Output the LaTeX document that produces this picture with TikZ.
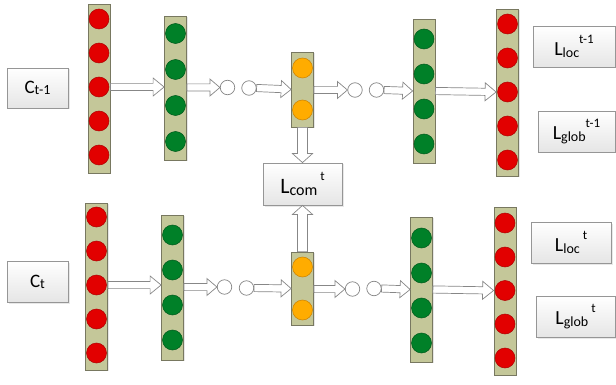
\documentclass[tikz,border=0pt]{standalone}
\usepackage{fontspec}
\setmainfont{Carlito}
\usetikzlibrary{calc,shadows}
\definecolor{colfill}{RGB}{196,199,153}
\definecolor{colline}{RGB}{120,120,96}
\definecolor{redfill}{RGB}{226,0,0}
\definecolor{redline}{RGB}{175,0,0}
\definecolor{grnfill}{RGB}{0,128,40}
\definecolor{grnline}{RGB}{0,90,28}
\definecolor{orfill}{RGB}{255,172,0}
\definecolor{orline}{RGB}{205,130,0}
\definecolor{boxline}{RGB}{150,150,150}
\definecolor{arrline}{RGB}{135,135,135}
\newcommand{\blockarr}[5]{%
  \coordinate (hb) at ($(#2)!#5!(#1)$);
  \draw[blockarrow] ($(#1)!#3!90:(#2)$) -- ($(hb)!#3!90:(#2)$) -- ($(hb)!#4!90:(#2)$) -- (#2)
    -- ($(hb)!#4!-90:(#2)$) -- ($(hb)!#3!-90:(#2)$) -- ($(#1)!#3!-90:(#2)$) -- cycle;}
\newcommand{\mainf}{\fontsize{19}{19}\selectfont}
\newcommand{\subf}{\fontsize{14}{14}\selectfont}
\newcommand{\Lf}{\fontsize{20}{20}\selectfont}
\newcommand{\Lsubf}{\fontsize{14}{14}\selectfont}
\newcommand{\Lsupf}{\fontsize{13}{13}\selectfont}
\tikzset{
  col/.style={draw=colline, fill=colfill, line width=0.8pt, minimum width=22pt, inner sep=0pt,
    drop shadow={shadow xshift=1.2pt, shadow yshift=-1.2pt, opacity=0.2}},
  unitc/.style={circle, inner sep=0pt, minimum size=20pt, line width=0.5pt},
  redc/.style={unitc, fill=redfill, draw=redline},
  grnc/.style={unitc, fill=grnfill, draw=grnline},
  orc/.style={unitc, fill=orfill, draw=orline},
  smallc/.style={circle, draw=arrline, fill=white, line width=0.7pt, minimum size=14.5pt, inner sep=0pt},
  lbox/.style={draw=boxline, line width=0.8pt, top color=white, bottom color=black!10, inner sep=0pt,
    drop shadow={shadow xshift=1.5pt, shadow yshift=-1.5pt, opacity=0.18}},
  blockarrow/.style={draw=arrline, fill=white, line width=0.7pt, line join=miter}
}
\begin{document}
\begin{tikzpicture}[x=1pt, y=-1pt]
\useasboundingbox (0,0) rectangle (616,385);
% ---------- top row ----------
\node[col, minimum height=169pt] (R1) at (99,88.5) {};
\foreach \y [count=\i] in {19,53,87,121,155} \node[redc] (r1\i) at (99,\y) {};
\node[col, minimum height=144pt] (G1) at (175.5,88) {};
\foreach \y [count=\i] in {33.5,69.5,105.5,141.5} \node[grnc] (g1\i) at (175.5,\y) {};
\node[col, minimum height=75pt] (O1) at (302.5,89.5) {};
\foreach \y [count=\i] in {68,110} \node[orc] (o1\i) at (302.5,\y) {};
\node[col, minimum height=144pt] (G2) at (424,91) {};
\foreach \y [count=\i] in {39,74,109,144} \node[grnc] (g2\i) at (424,\y) {};
\node[col, minimum height=167pt] (R2) at (507.5,92.5) {};
\foreach \y [count=\i] in {24,58,92,126,160} \node[redc] (r2\i) at (507.5,\y) {};
\node[smallc] (s1) at (227.5,87.5) {};
\node[smallc] (s2) at (249,88) {};
\node[smallc] (s3) at (355,90) {};
\node[smallc] (s4) at (376.5,90) {};
% ---------- bottom row ----------
\node[col, minimum height=167pt] (R3) at (96.5,286.5) {};
\foreach \y [count=\i] in {217,251,285,319,353} \node[redc] (r3\i) at (96.5,\y) {};
\node[col, minimum height=145pt] (G3) at (172.5,287.5) {};
\foreach \y [count=\i] in {235,270,305,340} \node[grnc] (g3\i) at (172.5,\y) {};
\node[col, minimum height=73pt] (O2) at (302.5,288.5) {};
\foreach \y [count=\i] in {267,310} \node[orc] (o2\i) at (302.5,\y) {};
\node[col, minimum height=145pt] (G4) at (421.5,289.5) {};
\foreach \y [count=\i] in {238,273,308,343} \node[grnc] (g4\i) at (421.5,\y) {};
\node[col, minimum height=168pt] (R4) at (505,291) {};
\foreach \y [count=\i] in {223,257,290.5,324,358} \node[redc] (r4\i) at (505,\y) {};
\node[smallc] (s5) at (224.5,287) {};
\node[smallc] (s6) at (246.5,288) {};
\node[smallc] (s7) at (352.5,289) {};
\node[smallc] (s8) at (374,288.5) {};
% ---------- text boxes ----------
\node[lbox, minimum width=61pt, minimum height=40pt] (ct1) at (37.5,88)
  {\mainf C\raisebox{-1pt}{\subf t-1}};
\node[lbox, minimum width=61pt, minimum height=41pt] (ct) at (37.5,281.5)
  {\mainf C\raisebox{-1pt}{\subf t}};
\node[lbox, minimum width=79pt, minimum height=42pt] (lcom) at (302.5,184)
  {\fontsize{22}{22}\selectfont L\raisebox{-2pt}{\fontsize{16}{16}\selectfont com}\raisebox{13pt}{\Lsupf\ t}};
\node[lbox, minimum width=82pt, minimum height=41pt] (lloc1) at (574,46.5)
  {\Lf L\raisebox{-1.5pt}{\Lsubf loc}\raisebox{12pt}{\Lsupf t-1}};
\node[lbox, minimum width=77pt, minimum height=41pt] (lglob1) at (576.5,131.5)
  {\Lf L\raisebox{-1.5pt}{\Lsubf glob}\raisebox{12pt}{\Lsupf t-1}};
\node[lbox, minimum width=80pt, minimum height=41pt] (lloc) at (571,242.5)
  {\Lf L\raisebox{-1.5pt}{\Lsubf loc}\raisebox{12pt}{\Lsupf\ t}};
\node[lbox, minimum width=79pt, minimum height=41pt] (lglob) at (575.5,316.5)
  {\Lf L\raisebox{-1.5pt}{\Lsubf glob}\raisebox{12pt}{\Lsupf\ t}};
% ---------- arrows, top row ----------
\coordinate (a1s) at (R1.east |- r13.center);
\coordinate (a1e) at (G1.west |- r13.center);
\blockarr{a1s}{a1e}{3.6pt}{9pt}{11pt}
\coordinate (a2s) at (G1.east |- s1.center);
\blockarr{a2s}{s1.west}{3.6pt}{8.5pt}{10pt}
\coordinate (a3e) at (O1.west |- O1.center);
\blockarr{s2.east}{a3e}{3.6pt}{8.5pt}{10pt}
\coordinate (a4s) at (O1.east |- s3.center);
\blockarr{a4s}{s3.west}{3.6pt}{8.5pt}{10pt}
\coordinate (a5e) at (G2.west |- G2.center);
\blockarr{s4.east}{a5e}{3.6pt}{8.5pt}{10pt}
\coordinate (a6s) at (G2.east |- 0,89);
\coordinate (a6e) at (R2.west |- r23.center);
\blockarr{G2.east}{a6e}{3.6pt}{9pt}{11pt}
% ---------- arrows, bottom row ----------
\coordinate (b1s) at (R3.east |- r33.center);
\coordinate (b1e) at (G3.west |- r33.center);
\blockarr{b1s}{b1e}{3.6pt}{9pt}{11pt}
\coordinate (b2s) at (G3.east |- s5.center);
\blockarr{b2s}{s5.west}{3.6pt}{8.5pt}{10pt}
\coordinate (b3e) at (O2.west |- O2.center);
\blockarr{s6.east}{b3e}{3.6pt}{8.5pt}{10pt}
\coordinate (b4s) at (O2.east |- s7.center);
\blockarr{b4s}{s7.west}{3.6pt}{8.5pt}{10pt}
\coordinate (b5e) at (G4.west |- G4.center);
\blockarr{s8.east}{b5e}{3.6pt}{8.5pt}{10pt}
\coordinate (b6e) at (R4.west |- r43.center);
\blockarr{G4.east}{b6e}{3.6pt}{9pt}{11pt}
% ---------- vertical arrows ----------
\blockarr{O1.south}{lcom.north}{5pt}{10pt}{9pt}
\blockarr{O2.north}{lcom.south}{5pt}{10pt}{9pt}
\end{tikzpicture}
\end{document}
